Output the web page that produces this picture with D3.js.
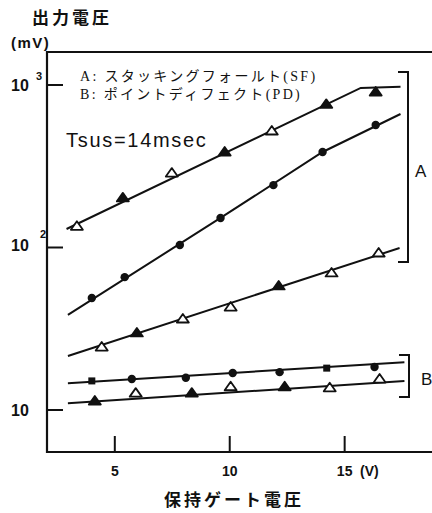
<!DOCTYPE html>
<html>
<head>
<meta charset="utf-8">
<script src="https://cdn.jsdelivr.net/npm/d3@7"></script>
<style>
  body { margin: 0; background: #fff; }
  svg { display: block; }
  .jp { font-family: "Noto Sans CJK JP", sans-serif; }
  .leg { font-family: "Liberation Serif", "Noto Sans CJK JP", serif; }
  .num { font-family: "Liberation Sans", Arial, sans-serif; }
</style>
</head>
<body>
<svg width="432" height="513"></svg>
<script>
// tick values
var xTicks = [5, 10, 15];
var yTicks = [10, 100, 1000];
var yTickExp = ["", "2", "3"];

// A: stacking fault, upper curve (markers: [V, mV, kind])
var sfTopPoints = [[3.35, 135, "open"], [5.35, 202, "filled"], [7.48, 287, "open"], [9.78, 387, "filled"],
                   [11.83, 521, "open"], [14.2, 760, "filled"], [16.35, 905, "filled"]];
var sfTopLine = [[2.9, 130], [15.7, 959], [17.43, 975]];

// A: middle curve (filled circles)
var sfMidPoints = [[4.0, 48.9, "circle"], [5.43, 65.7, "circle"], [7.83, 103.6, "circle"], [9.6, 152, "circle"],
                   [11.9, 242, "circle"], [14.04, 387, "circle"], [16.35, 567, "circle"]];
var sfMidLine = [[2.96, 38.5], [9.6, 152], [14.04, 387], [17.43, 663]];

// A: lower curve
var sfLowPoints = [[4.43, 24.4, "open"], [5.96, 29.8, "filled"], [7.96, 36.3, "open"], [10.04, 43.0, "open"],
                   [12.13, 58.0, "filled"], [14.43, 69.7, "open"], [16.48, 92.5, "open"]];
var sfLowLine = [[2.96, 21.5], [17.39, 99.3]];

// B: point defect, upper
var pdTopPoints = [[4.0, 15.1, "square"], [5.74, 15.5, "circle"], [8.09, 15.8, "circle"], [10.13, 16.9, "circle"],
                   [12.17, 17.1, "circle"], [14.22, 18.1, "square"], [16.3, 18.4, "circle"]];
var pdTopLine = [[2.96, 14.6], [17.6, 19.7]];

// B: lower
var pdLowPoints = [[4.13, 11.35, "filled"], [5.91, 12.7, "open"], [8.35, 12.7, "filled"], [10.04, 13.9, "open"],
                   [12.39, 13.9, "filled"], [14.35, 13.7, "open"], [16.52, 15.5, "open"]];
var pdLowLine = [[2.96, 11.0], [17.6, 15.1]];

var svg = d3.select("svg");
var ink = "#111";

var x = d3.scaleLinear().domain([2.05, 18.8]).range([47, 432]);
var y = d3.scaleLog().domain([10, 1000]).range([410, 85]);

var frame = {top: 52, bottom: 452, left: 47, right: 432};

// frame: top, left and bottom lines
svg.append("path")
    .attr("d", "M" + frame.right + "," + frame.top + "H" + frame.left + "V" + frame.bottom + "H" + frame.right)
    .attr("fill", "none").attr("stroke", ink).attr("stroke-width", 2.2);

// x ticks (pointing up into the plot)
svg.selectAll(".xt").data(xTicks).enter().append("line")
    .attr("x1", function(d) { return x(d); }).attr("x2", function(d) { return x(d); })
    .attr("y1", frame.bottom).attr("y2", frame.bottom - 16)
    .attr("stroke", ink).attr("stroke-width", 2);
svg.selectAll(".xl").data(xTicks).enter().append("text")
    .attr("class", "num")
    .attr("x", function(d) { return x(d); }).attr("y", 476)
    .attr("text-anchor", "middle").attr("font-size", 14).attr("font-weight", "bold").attr("fill", ink)
    .text(function(d) { return d; });
svg.append("text").attr("class", "num")
    .attr("x", 360).attr("y", 476).attr("font-size", 14).attr("font-weight", "bold").attr("fill", ink)
    .text("(V)");

// y ticks (pointing right)
svg.selectAll(".yt").data(yTicks).enter().append("line")
    .attr("x1", frame.left).attr("x2", frame.left + 16)
    .attr("y1", function(d) { return y(d); }).attr("y2", function(d) { return y(d); })
    .attr("stroke", ink).attr("stroke-width", 2);
yTicks.forEach(function(d, i) {
    svg.append("text").attr("class", "num")
        .attr("x", 11).attr("y", y(d) + (i == 1 ? 3 : 6))
        .attr("font-size", 16).attr("font-weight", "bold").attr("fill", ink).text("10");
    if (yTickExp[i]) {
        svg.append("text").attr("class", "num")
            .attr("x", i == 1 ? 40 : 36).attr("y", y(d) + (i == 1 ? -10 : -5))
            .attr("font-size", 11).attr("font-weight", "bold").attr("fill", ink).text(yTickExp[i]);
    }
});

// axis titles
svg.append("text").attr("class", "jp")
    .attr("x", 32).attr("y", 24).attr("font-size", 17).attr("font-weight", "bold")
    .attr("letter-spacing", 3).attr("fill", ink).text("出力電圧");
svg.append("text").attr("class", "num")
    .attr("x", 11).attr("y", 48).attr("font-size", 15).attr("font-weight", "bold")
    .attr("letter-spacing", 1.5).attr("fill", ink).text("(mV)");
svg.append("text").attr("class", "jp")
    .attr("x", 234).attr("y", 506).attr("text-anchor", "middle").attr("font-size", 17).attr("font-weight", "bold")
    .attr("letter-spacing", 3).attr("fill", ink).text("保持ゲート電圧");

// legend
svg.append("text").attr("class", "leg")
    .attr("x", 80).attr("y", 81).attr("font-size", 14).attr("letter-spacing", 2.3).attr("fill", ink)
    .text("A: スタッキングフォールト(SF)");
svg.append("text").attr("class", "leg")
    .attr("x", 80).attr("y", 99).attr("font-size", 14).attr("letter-spacing", 2.3).attr("fill", ink)
    .text("B: ポイントディフェクト(PD)");
svg.append("text").attr("class", "num")
    .attr("x", 66).attr("y", 147).attr("font-size", 20).attr("letter-spacing", 1.7).attr("fill", ink)
    .text("Tsus=14msec");

// brackets
function bracket(x0, y0, y1, label, lx, ly) {
    svg.append("path")
        .attr("d", "M" + (x0 - 10) + "," + y0 + "H" + x0 + "V" + y1 + "H" + (x0 - 10))
        .attr("fill", "none").attr("stroke", ink).attr("stroke-width", 2);
    svg.append("text").attr("class", "num")
        .attr("x", lx).attr("y", ly).attr("font-size", 17).attr("fill", ink).text(label);
}
bracket(408, 72, 262, "A", 415, 177);
bracket(409, 355, 397, "B", 421, 385);

// fitted lines
var line = d3.line()
    .x(function(d) { return x(d[0]); })
    .y(function(d) { return y(d[1]); });
[sfTopLine, sfMidLine, sfLowLine, pdTopLine, pdLowLine].forEach(function(ln) {
    svg.append("path").attr("d", line(ln))
        .attr("fill", "none").attr("stroke", ink).attr("stroke-width", 2);
});

// markers
function marker(d) {
    var g = svg.append("g").attr("transform", "translate(" + x(d[0]) + "," + y(d[1]) + ")");
    if (d[2] == "circle") {
        g.append("circle").attr("r", 4.2).attr("fill", ink);
    } else if (d[2] == "square") {
        g.append("rect").attr("x", -3.5).attr("y", -3.5).attr("width", 7).attr("height", 7).attr("fill", ink);
    } else {
        g.append("path").attr("d", "M-6,3.5L0,-5L6,3.5Z")
            .attr("fill", d[2] == "open" ? "#fff" : ink)
            .attr("stroke", ink).attr("stroke-width", 1.8).attr("stroke-linejoin", "round");
    }
}
[sfTopPoints, sfMidPoints, sfLowPoints, pdTopPoints, pdLowPoints].forEach(function(s) {
    s.forEach(marker);
});
</script>
</body>
</html>
